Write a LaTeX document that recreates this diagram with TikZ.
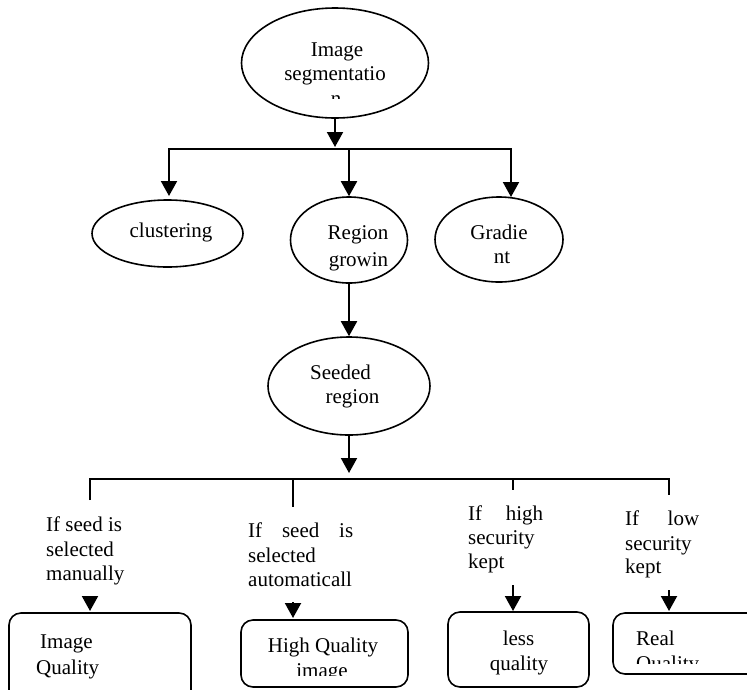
\documentclass[tikz,border=0pt]{standalone}
\usepackage{fontspec}
\setmainfont{Liberation Serif}
\usetikzlibrary{shapes.geometric,arrows.meta}
\begin{document}
\begin{tikzpicture}[x=1pt,y=-1pt,
  ell/.style={draw,ellipse,line width=1.6pt,inner sep=0pt},
  bx/.style={draw,rectangle,rounded corners=12pt,line width=1.6pt,inner sep=0pt},
  ln/.style={line width=2pt},
  arr/.style={line width=2pt,-{Triangle[width=16pt,length=15pt]}},
  txt/.style={inner sep=0pt,anchor=base,font=\fontsize{21}{25}\selectfont},
  txl/.style={txt,anchor=base west}]
\useasboundingbox (0,0) rectangle (747,689);
\clip (0,0) rectangle (747,689);

% ellipses
\node[ell,minimum width=187pt,minimum height=110pt] (top) at (335,63) {};
\node[ell,minimum width=151pt,minimum height=67pt] (clus) at (167.5,233.5) {};
\node[ell,minimum width=117pt,minimum height=86pt] (reg) at (349,240) {};
\node[ell,minimum width=128pt,minimum height=85pt] (grad) at (499,239.5) {};
\node[ell,minimum width=162pt,minimum height=98pt] (seed) at (349,386) {};

% boxes
\node[bx,minimum width=182pt,minimum height=110pt] (b1) at (100,668) {};
\node[bx,minimum width=167pt,minimum height=67pt] (b2) at (324.5,653.5) {};
\node[bx,minimum width=141pt,minimum height=75pt] (b3) at (518.5,649.5) {};
\node[bx,minimum width=190pt,minimum height=61pt] (b4) at (708,643.5) {};

% coordinates
\coordinate (ht) at (335,147);
\coordinate (hl) at (169,149);
\coordinate (hm) at (349,149);
\coordinate (hr) at (511,149);
\coordinate (c1) at (169,196);
\coordinate (c3) at (511,197);
\coordinate (st) at (349,473);
\coordinate (bl) at (90,479);
\coordinate (br) at (669,479);
\coordinate (d1) at (90,500);
\coordinate (d4) at (669,495);
\coordinate (m2) at (293,479);
\coordinate (d2) at (293,507);
\coordinate (m3) at (513,479);
\coordinate (d3) at (513,490);
\coordinate (s1) at (90,596);
\coordinate (e1) at (90,611);
\coordinate (s2) at (293,602);
\coordinate (e2) at (293,618);
\coordinate (s3) at (513,585);
\coordinate (e3) at (513,611);
\coordinate (s4) at (669,590);
\coordinate (e4) at (669,611);

% connectors
\draw[arr] (top.south) -- (ht);
\draw[ln,line cap=rect] (hl) -- (hr);
\draw[arr] (hl) -- (c1);
\draw[arr] (hm) -- (reg.north);
\draw[arr] (hr) -- (c3);
\draw[arr] (reg.south) -- (seed.north);
\draw[arr] (seed.south) -- (st);
\draw[ln] (d1) -- (bl) -- (br) -- (d4);
\draw[ln] (m2) -- (d2);
\draw[ln] (m3) -- (d3);
\draw[arr] (s1) -- (e1);
\draw[arr] (s2) -- (e2);
\draw[arr] (s3) -- (e3);
\draw[arr] (s4) -- (e4);

% ellipse texts
\node[txt] (ta) at (337,56) {Image};
\node[txt] (tb) at (335,80) {segmentatio};
\begin{scope}
\clip (240,0) rectangle (430,98);
\node[txt] (tc) at (336,105) {n};
\end{scope}
\node[txt] (tclus) at (171,237) {clustering};
\node[txt] (tr1) at (358,239) {Region};
\node[txt] (tr2) at (358.5,266) {growin};
\node[txt] (tg1) at (499,239) {Gradie};
\node[txt] (tg2) at (502,263) {nt};
\node[txt] (ts1) at (340.5,379) {Seeded};
\node[txt] (ts2) at (352.5,403) {region};

% branch labels
\node[txl] (l1a) at (46,531) {If seed is};
\node[txl] (l1b) at (46,556) {selected};
\node[txl] (l1c) at (46,580) {manually};
\node[txl] (l2a) at (248,537) {\makebox[105pt][s]{If seed is}};
\node[txl] (l2b) at (248,562) {selected};
\node[txl] (l2c) at (248,586) {automaticall};
\node[txl] (l3a) at (468,520) {\makebox[75pt][s]{If high}};
\node[txl] (l3b) at (468,544) {security};
\node[txl] (l3c) at (468,568) {kept};
\node[txl] (l4a) at (625,525) {\makebox[74pt][s]{If low}};
\node[txl] (l4b) at (625,550) {security};
\node[txl] (l4c) at (625,573) {kept};

% box texts
\node[txl] (q1a) at (40,648) {Image};
\node[txl] (q1b) at (36,674) {Quality};
\node[txt] (q2a) at (323,652) {High Quality};
\begin{scope}
\clip (241,600) rectangle (408,675);
\node[txt] (q2b) at (322,677) {image};
\end{scope}
\node[txt] (q3a) at (518.5,645) {less};
\node[txt] (q3b) at (519,670) {quality};
\node[txl] (q4a) at (636,645) {Real};
\begin{scope}
\clip (613,600) rectangle (747,663);
\node[txl] (q4b) at (636,670) {Quality};
\end{scope}
\end{tikzpicture}
\end{document}
